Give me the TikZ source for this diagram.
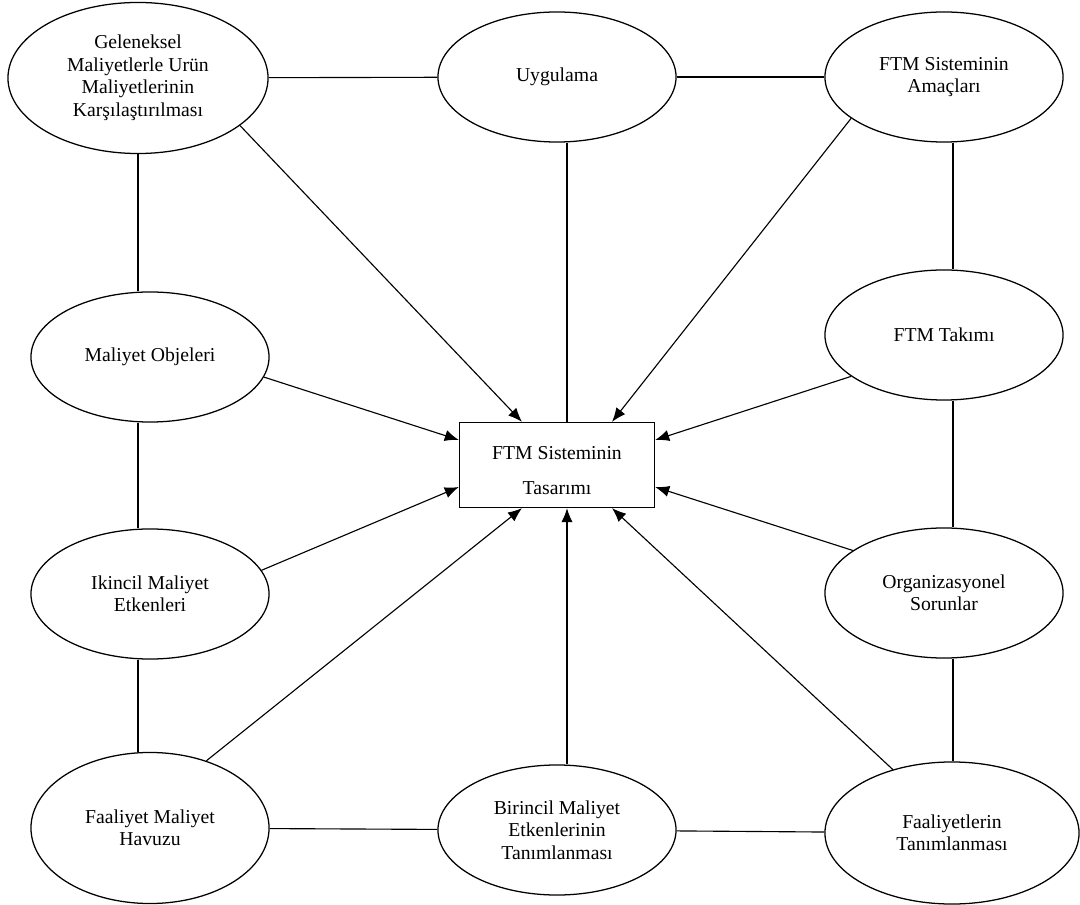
\documentclass[tikz,border=0pt]{standalone}
\usepackage{fontspec}
\setmainfont{Liberation Serif}
\usetikzlibrary{shapes,arrows.meta}

\begin{document}
\begin{tikzpicture}[x=0.025cm,y=-0.025cm]
        %styles
        \tikzstyle{konu}=[ellipse,draw,line width=0.9pt,align=center,inner sep=0pt,minimum width=5.95cm,minimum height=3.25cm,font=\fontsize{14}{16}\selectfont]
        \tikzstyle{merkez}=[rectangle,draw,line width=0.9pt,align=center,minimum width=4.875cm,minimum height=2.125cm,font=\fontsize{14}{16}\selectfont]
        \tikzstyle{bag}=[line width=0.8pt]
        \tikzstyle{ok}=[-{Latex[length=10pt,width=8pt]},line width=0.8pt]

        \useasboundingbox (0,0) rectangle (1080,905);

        %nodes
        \node[konu,minimum width=6.5cm,minimum height=3.775cm] (gel) at (138,78) {Geleneksel\\Maliyetlerle Urün\\Maliyetlerinin\\Karşılaştırılması};
        \node[konu] (uyg) at (557,77) {Uygulama};
        \node[konu] (ama) at (944,77) {FTM Sisteminin\\Amaçları};

        \node[konu] (mo) at (150,357) {Maliyet Objeleri};
        \node[konu] (ikn) at (150,594) {Ikincil Maliyet\\Etkenleri};
        \node[konu] (tak) at (944,335) {FTM Takımı};
        \node[konu] (org) at (944,593) {Organizasyonel\\Sorunlar};

        \node[konu,minimum height=3.775cm] (hav) at (150,828) {Faaliyet Maliyet\\Havuzu};
        \node[konu] (bir) at (557,830) {Birincil Maliyet\\Etkenlerinin\\Tanımlanması};
        \node[konu,minimum width=6.35cm,minimum height=3.55cm] (faa) at (952,833) {Faaliyetlerin\\Tanımlanması};

        \node[merkez,text height=42pt] (ftm) at (557,465) {FTM Sisteminin\\[9pt]Tasarımı};

        %lines
        \draw[bag] (gel) -- (uyg);
        \draw[bag] (uyg) -- (ama);
        \draw[bag] (hav) -- (bir);
        \draw[bag] (bir) -- (faa);

        \draw[bag] (gel.south) -- (gel.south |- mo.north);
        \draw[bag] ([xshift=-0.3cm]mo.south) -- ([xshift=-0.3cm]mo.south |- ikn.north);
        \draw[bag] ([xshift=-0.3cm]ikn.south) -- ([xshift=-0.3cm]ikn.south |- hav.north);

        \draw[bag] ([xshift=0.225cm]ama.south) -- ([xshift=0.225cm]ama.south |- tak.north);
        \draw[bag] ([xshift=0.225cm]tak.south) -- ([xshift=0.225cm]tak.south |- org.north);
        \draw[bag] ([xshift=0.225cm]org.south) -- ([xshift=0.225cm]org.south |- faa.north);

        \draw[bag] ([xshift=0.25cm]uyg.south) -- ([xshift=0.25cm]ftm.north);

        %arrows
        \draw[ok] (gel.-25) -- ([xshift=-0.875cm]ftm.north);
        \draw[ok] (ama.-156) -- ([xshift=1.375cm]ftm.north);
        \draw[ok] (mo.-10) -- ([yshift=0.625cm]ftm.west);
        \draw[ok] (tak.204) -- ([yshift=0.625cm]ftm.east);
        \draw[ok] (ikn.12) -- ([yshift=-0.55cm]ftm.west);
        \draw[ok] (org.155) -- ([yshift=-0.55cm]ftm.east);
        \draw[ok] (hav.50) -- ([xshift=-0.875cm]ftm.south);
        \draw[ok] ([xshift=0.25cm]bir.north) -- ([xshift=0.25cm]ftm.south);
        \draw[ok] (faa.133) -- ([xshift=1.375cm]ftm.south);
\end{tikzpicture}
\end{document}
